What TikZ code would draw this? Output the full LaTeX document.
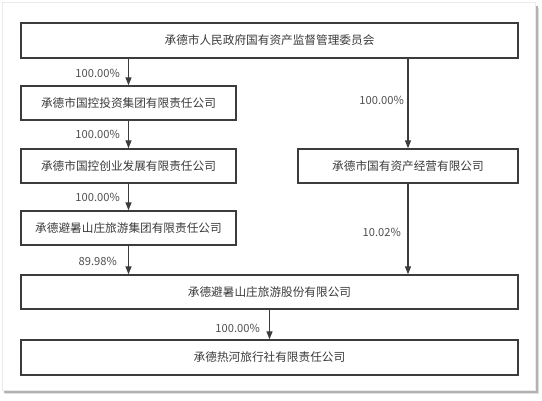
\documentclass[tikz,border=0pt]{standalone}
\usepackage{fontspec}
\setmainfont{Noto Sans CJK SC}
\usetikzlibrary{arrows.meta}
\definecolor{boxline}{HTML}{3C3C3C}
\definecolor{txt}{HTML}{3A3A3A}
\definecolor{pct}{HTML}{505050}
\begin{document}
\begin{tikzpicture}[x=1bp,y=-1bp,
  orgbox/.style={draw=boxline,line width=1.4bp,fill=white,inner sep=0pt,text=txt,font=\fontsize{11.7}{13}\selectfont},
  link/.style={draw=boxline,line width=1.3bp,-{Triangle[length=8bp,width=6bp]}},
  pctlbl/.style={text=pct,font=\fontsize{11.2}{12}\selectfont,inner sep=1bp}]
\useasboundingbox (0,0) rectangle (542,400);
\fill[white] (0,0) rectangle (542,400);
% frame with shadow
\fill[black!30] (535,6) rectangle (538,393);
\fill[black!30] (4,390) rectangle (538,393);
\fill[black!12] (538,8) rectangle (539,394);
\fill[black!12] (5,393) rectangle (539,394);
\draw[black!8,line width=0.6bp] (2,2) rectangle (535,390);
% boxes
\node[orgbox,minimum width=497bp,minimum height=35bp] (top) at (269.5,40.5) {承德市人民政府国有资产监督管理委员会};
\node[orgbox,minimum width=215bp,minimum height=34bp] (inv) at (128.5,103) {承德市国控投资集团有限责任公司};
\node[orgbox,minimum width=215bp,minimum height=34bp] (cy) at (128.5,166) {承德市国控创业发展有限责任公司};
\node[orgbox,minimum width=215bp,minimum height=34bp] (grp) at (128.5,228) {承德避暑山庄旅游集团有限责任公司};
\node[orgbox,minimum width=220bp,minimum height=34bp] (op) at (408,166) {承德市国有资产经营有限公司};
\node[orgbox,minimum width=497bp,minimum height=34bp] (sh) at (269.5,292) {承德避暑山庄旅游股份有限公司};
\node[orgbox,minimum width=497bp,minimum height=35bp] (rh) at (269.5,357.5) {承德热河旅行社有限责任公司};
% connectors
\draw[link] (top.south -| inv.north) -- (inv.north);
\draw[link] (inv.south) -- (cy.north);
\draw[link] (cy.south) -- (grp.north);
\draw[link] (grp.south) -- (grp.south |- sh.north);
\draw[link] (top.south -| op.north) -- (op.north);
\draw[link] (op.south) -- (op.south |- sh.north);
\draw[link] (sh.south) -- (rh.north);
% labels
\node[pctlbl,anchor=east] (l1) at (121,73) {100.00\%};
\node[pctlbl,anchor=east] (l2) at (121,134) {100.00\%};
\node[pctlbl,anchor=east] (l3) at (121,197) {100.00\%};
\node[pctlbl,anchor=east] (l4) at (118,261) {89.98\%};
\node[pctlbl,anchor=east] (l5) at (405,100) {100.00\%};
\node[pctlbl,anchor=east] (l6) at (402,232) {10.02\%};
\node[pctlbl,anchor=east] (l7) at (261,328) {100.00\%};
\end{tikzpicture}
\end{document}
